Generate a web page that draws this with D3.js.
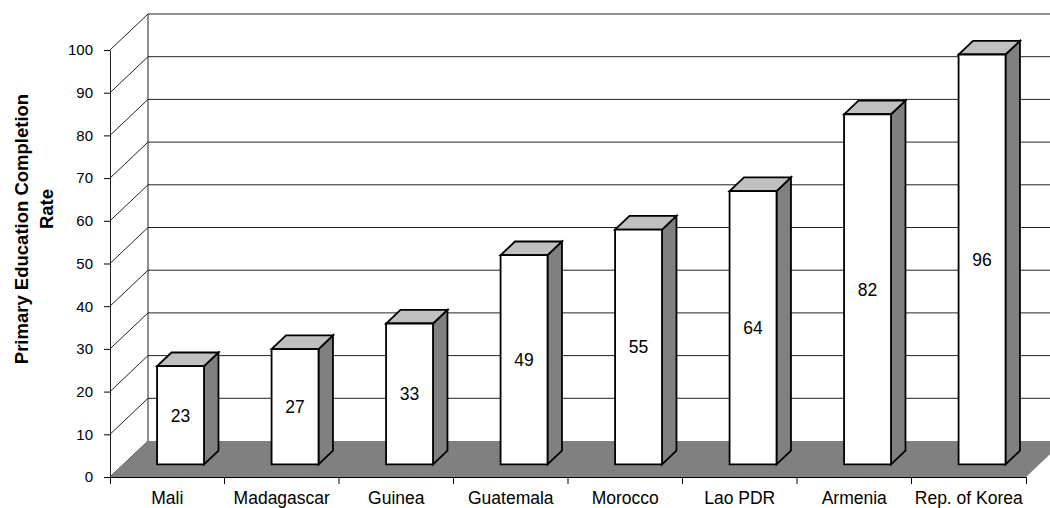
<!DOCTYPE html>
<html>
<head>
<meta charset="utf-8">
<script src="https://cdn.jsdelivr.net/npm/d3@7"></script>
<style>
  html, body { margin: 0; padding: 0; background: #fff; }
  svg { display: block; font-family: "Liberation Sans", Arial, sans-serif; }
</style>
</head>
<body>
<svg id="chart" width="1050" height="508"></svg>
<script>
// Primary education completion rate by country
const categories = ["Mali", "Madagascar", "Guinea", "Guatemala", "Morocco", "Lao PDR", "Armenia", "Rep. of Korea"];
const values = [23, 27, 33, 49, 55, 64, 82, 96];
const yTicks = [0, 10, 20, 30, 40, 50, 60, 70, 80, 90, 100];
const titleLines = ["Primary Education Completion", "Rate"];

const svg = d3.select("#chart");

// Front plane scales; depth is a 0..1 oblique offset toward the back wall
const x = d3.scaleBand().domain(categories).range([110, 1026])
  .paddingInner(0.59).paddingOuter(0.295);
const y = d3.scaleLinear().domain([0, 100]).range([477, 50]);
const DX = 38, DY = 36;
const proj = (px, v, d) => [px + d * DX, y(v) - d * DY];
const pts = arr => arr.map(p => p.join(",")).join(" ");

const x0 = x.range()[0], x1 = x.range()[1];

// Back wall gridlines
svg.append("g").selectAll("line").data(yTicks.filter(t => t > 0)).join("line")
  .attr("x1", d => proj(x0, d, 1)[0]).attr("y1", d => proj(x0, d, 1)[1])
  .attr("x2", d => proj(x1, d, 1)[0]).attr("y2", d => proj(x1, d, 1)[1])
  .attr("stroke", "#222").attr("stroke-width", 1);

// Side wall gridlines (diagonals)
svg.append("g").selectAll("line").data(yTicks).join("line")
  .attr("x1", d => proj(x0, d, 0)[0]).attr("y1", d => proj(x0, d, 0)[1])
  .attr("x2", d => proj(x0, d, 1)[0]).attr("y2", d => proj(x0, d, 1)[1])
  .attr("stroke", "#222").attr("stroke-width", 1);

// Back vertical edge of the side wall
svg.append("line")
  .attr("x1", proj(x0, 0, 1)[0]).attr("y1", proj(x0, 0, 1)[1])
  .attr("x2", proj(x0, 100, 1)[0]).attr("y2", proj(x0, 100, 1)[1])
  .attr("stroke", "#222").attr("stroke-width", 1);

// Floor
svg.append("polygon")
  .attr("points", pts([proj(x0, 0, 0), proj(x1, 0, 0), proj(x1, 0, 1), proj(x0, 0, 1)]))
  .attr("fill", "#808080");

// Bars
const D0 = 0.35, D1 = 0.73;
const bars = svg.append("g").selectAll("g").data(categories).join("g");
bars.each(function(c, i) {
  const g = d3.select(this);
  const v = values[i];
  const a = x(c), b = x(c) + x.bandwidth();
  const style = s => s.attr("stroke", "#000").attr("stroke-width", 1.8).attr("stroke-linejoin", "miter");
  g.append("polygon")
    .attr("points", pts([proj(b, v, D0), proj(b, v, D1), proj(b, 0, D1), proj(b, 0, D0)]))
    .attr("fill", "#808080").call(style);
  g.append("polygon")
    .attr("points", pts([proj(a, v, D0), proj(b, v, D0), proj(b, v, D1), proj(a, v, D1)]))
    .attr("fill", "#c0c0c0").call(style);
  g.append("polygon")
    .attr("points", pts([proj(a, v, D0), proj(b, v, D0), proj(b, 0, D0), proj(a, 0, D0)]))
    .attr("fill", "#fff").call(style);
  const c0 = proj((a + b) / 2, v / 2, D0);
  g.append("text")
    .attr("x", c0[0]).attr("y", c0[1]).attr("dy", "0.36em")
    .attr("text-anchor", "middle").attr("font-size", 17.5).attr("fill", "#000")
    .text(v);
});

// Value axis on the front edge of the side wall
const yAxis = svg.append("g").attr("transform", `translate(${x0},0)`)
  .call(d3.axisLeft(y).tickValues(yTicks).tickSize(6).tickPadding(11).tickSizeOuter(0));
yAxis.select(".domain").attr("stroke", "#222");
yAxis.selectAll(".tick line").attr("stroke", "#000");
yAxis.selectAll(".tick text").attr("font-size", 15).attr("fill", "#000")
  .attr("font-family", "Liberation Sans, Arial, sans-serif");

// Category axis
const xAxis = svg.append("g").attr("transform", `translate(0,${y(0)})`)
  .call(d3.axisBottom(x).tickSize(0).tickSizeOuter(7).tickPadding(15));
xAxis.select(".domain").attr("stroke", "#000");
xAxis.selectAll(".tick text").attr("font-size", 17.5).attr("fill", "#000")
  .attr("font-family", "Liberation Sans, Arial, sans-serif");
svg.append("g").selectAll("line").data(categories.slice(1)).join("line")
  .attr("x1", c => x(c) - x.step() * x.paddingInner() / 2)
  .attr("x2", c => x(c) - x.step() * x.paddingInner() / 2)
  .attr("y1", y(0)).attr("y2", y(0) + 7)
  .attr("stroke", "#000");

// Axis title
const title = svg.append("text")
  .attr("transform", "rotate(-90)")
  .attr("font-size", 18.5).attr("font-weight", "bold").attr("text-anchor", "middle").attr("fill", "#000");
title.append("tspan").attr("x", -229).attr("y", 28).text(titleLines[0]);
title.append("tspan").attr("x", -209).attr("y", 53).text(titleLines[1]);
</script>
</body>
</html>
